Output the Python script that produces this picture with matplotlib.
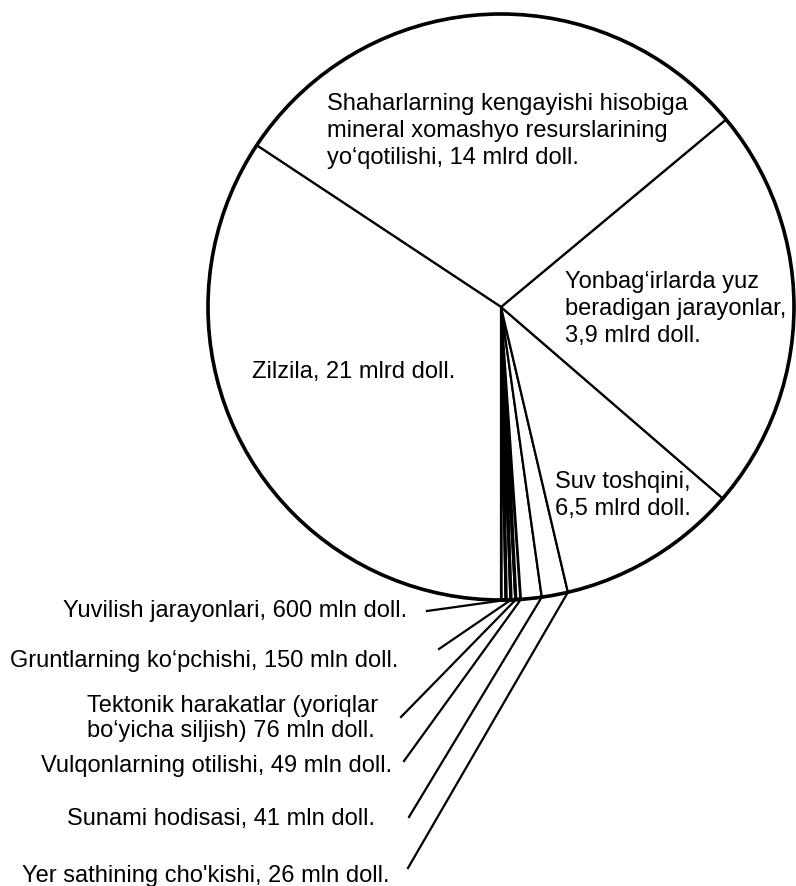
import matplotlib
matplotlib.use('Agg')
import matplotlib.pyplot as plt
import numpy as np
from matplotlib.patches import Circle

plt.rcParams['font.family'] = ['Liberation Sans', 'DejaVu Sans']

# Slices, counter-clockwise starting at the bottom (6 o'clock)
categories = ["Yuvilish jarayonlari", "Gruntlarning ko‘pchishi",
              "Tektonik harakatlar", "Vulqonlarning otilishi",
              "Sunami hodisasi", "Yer sathining cho'kishi",
              "Suv toshqini", "Yonbag‘irlarda yuz beradigan jarayonlar",
              "Shaharlarning kengayishi hisobiga", "Zilzila"]
# losses as printed in the labels (mln doll.)
losses_mln = [600, 150, 76, 49, 41, 26, 6500, 3900, 14000, 21000]
# slice sizes as drawn in the picture (degrees)
drawn_share = [1.0, 0.95, 0.95, 1.0, 4.1, 5.2, 36.0, 80.6, 106.7, 123.5]

label_texts = [
    "Yuvilish jarayonlari, 600 mln doll.",
    "Gruntlarning ko‘pchishi, 150 mln doll.",
    "Tektonik harakatlar (yoriqlar\nbo‘yicha siljish) 76 mln doll.",
    "Vulqonlarning otilishi, 49 mln doll.",
    "Sunami hodisasi, 41 mln doll.",
    "Yer sathining cho'kishi, 26 mln doll.",
    "Suv toshqini,\n6,5 mlrd doll.",
    "Yonbag‘irlarda yuz\nberadigan jarayonlar,\n3,9 mlrd doll.",
    "Shaharlarning kengayishi hisobiga\nmineral xomashyo resurslarining\nyo‘qotilishi, 14 mlrd doll.",
    "Zilzila, 21 mlrd doll.",
]

W, H = 796, 886
fig = plt.figure(figsize=(W / 100, H / 100), dpi=100)
ax = fig.add_axes([0, 0, 1, 1])

cx, cy, R = 501, H - 307, 293
FS = 17
LS = 1.3

wedges, _ = ax.pie(drawn_share, center=(cx, cy), radius=R, startangle=-90,
                   counterclock=True, frame=True,
                   colors=['white'] * len(drawn_share),
                   wedgeprops=dict(edgecolor='black', linewidth=1.6))
for w in wedges[:4]:
    w.set_linewidth(2.4)
ax.set_xlim(0, W)
ax.set_ylim(0, H)
ax.set_aspect('equal')
ax.axis('off')
ax.add_patch(Circle((cx, cy), R, fill=False, edgecolor='black', linewidth=2.6, zorder=5))

# inner labels (pixel x from left, baseline of the LAST line from top)
inner = {6: (555, 515), 7: (565, 342), 8: (327, 164), 9: (252, 378)}
for i, (x, yb) in inner.items():
    ax.text(x, H - yb, label_texts[i], fontsize=FS, ha='left', va='baseline',
            linespacing=LS)

# outer labels with leader lines
outer = {
    0: dict(xy=(407, 617), ha='right', start=(427, 611)),
    1: dict(xy=(398, 667), ha='right', start=(439, 649)),
    2: dict(xy=(87, 737), ha='left', start=(401, 717)),
    3: dict(xy=(392, 772), ha='right', start=(404, 761)),
    4: dict(xy=(375, 825), ha='right', start=(409, 817)),
    5: dict(xy=(390, 882), ha='right', start=(408, 868)),
}
for i, o in outer.items():
    x, yb = o['xy']
    ax.text(x, H - yb, label_texts[i], fontsize=FS, ha=o['ha'], va='baseline',
            linespacing=1.15)
    ang = np.deg2rad(wedges[i].theta2)
    ex, ey = cx + R * np.cos(ang), cy + R * np.sin(ang)
    sx, sy = o['start']
    ax.plot([sx, ex], [H - sy, ey], color='black', linewidth=1.6, zorder=6)

fig.savefig('out.png', dpi=100, facecolor='white')
